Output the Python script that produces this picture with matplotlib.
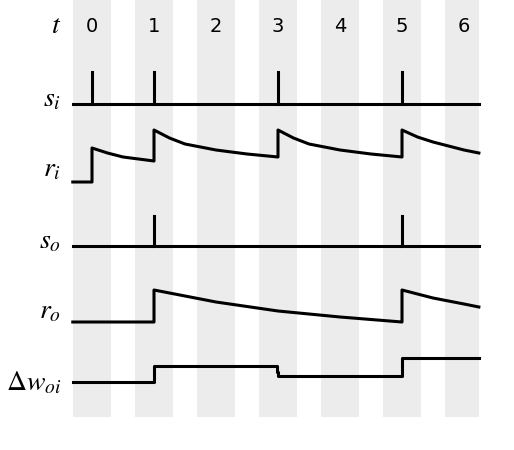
import matplotlib
matplotlib.use("Agg")
import matplotlib.pyplot as plt

ticks = [0, 1, 2, 3, 4, 5, 6]
si_spikes = [0, 1, 3, 5]
so_spikes = [1, 5]
# r_i trace (t, pixel-level y)
ri_t = [-0.31, 0, 0, 0.25, 0.5, 0.75, 1, 1, 1.25, 1.5, 2, 2.5, 3, 3, 3.25, 3.5, 4, 4.5, 5, 5, 5.25, 5.5, 6, 6.24]
ri_y = [182, 182, 148, 153, 157, 159, 161, 130, 138, 144, 150, 154, 157, 130, 138, 144, 150, 154, 157, 130, 137, 142, 150, 153]
ro_t = [-0.31, 1, 1, 1.5, 2, 3, 4, 5, 5, 5.5, 6, 6.24]
ro_y = [322, 322, 290, 296, 302, 311, 317, 322, 290, 298, 304, 307]
dw_t = [-0.31, 1, 1, 2.98, 2.98, 3, 3, 5, 5, 6.24]
dw_y = [382, 382, 366, 366, 372, 372, 376, 376, 358, 358]

plt.rcParams["mathtext.fontset"] = "stix"
fig = plt.figure(figsize=(5.14, 4.5), dpi=100)
ax = fig.add_axes([0, 0, 1, 1])
x0, x1 = -0.31, 6.24
px = 62.0
ax.set_xlim(-92 / px, (514 - 92) / px)
ax.set_ylim(450, 0)
ax.axis("off")

for t in ticks:
    ax.axvspan(t - 0.31, t + 0.31 if t < 6 else 6.24, ymin=1 - 417 / 450, ymax=1, color="#ececec", lw=0, zorder=0)
    ax.text(t, 27, str(t), ha="center", va="center", fontsize=14, family="DejaVu Sans")

lw = 2.2
ax.plot([x0, x1], [104, 104], color="black", lw=lw)
for t in si_spikes:
    ax.plot([t, t], [104, 72], color="black", lw=lw)
ax.plot([x0, x1], [246, 246], color="black", lw=lw)
for t in so_spikes:
    ax.plot([t, t], [246, 216], color="black", lw=lw)
ax.plot(ri_t, ri_y, color="black", lw=lw)
ax.plot(ro_t, ro_y, color="black", lw=lw)
ax.plot(dw_t, dw_y, color="black", lw=lw)

lab = dict(ha="right", va="center", fontsize=20)
ax.text(-0.5, 25, r"$t$", **lab)
ax.text(-0.5, 98, r"$s_i$", **lab)
ax.text(-0.5, 168, r"$r_i$", **lab)
ax.text(-0.5, 240, r"$s_o$", **lab)
ax.text(-0.5, 310, r"$r_o$", **lab)
ax.text(-0.5, 382, r"$\Delta w_{oi}$", **lab)
ax.text(-1.48, 460, "2: Accumulated weight adjustment. A synaptic", ha="left", va="center",
        fontsize=13, family="DejaVu Serif")

fig.savefig("out.png", dpi=100)
